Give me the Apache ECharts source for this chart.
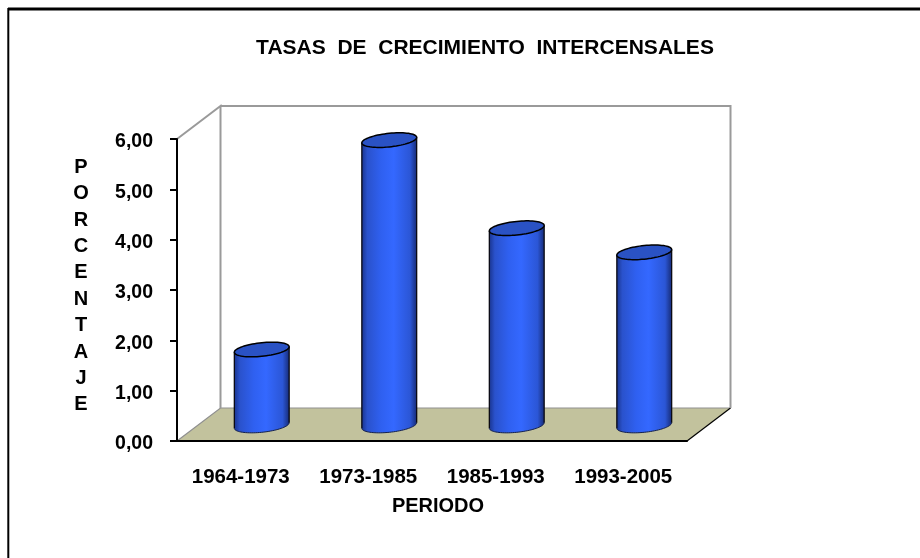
<!DOCTYPE html>
<html>
<head>
<meta charset="utf-8">
<script src="https://cdn.jsdelivr.net/npm/echarts@6/dist/echarts.min.js"></script>
<style>html,body{margin:0;padding:0;background:#fff}#c{width:920px;height:558px}</style>
</head>
<body>
<div id="c"></div>
<script>
var categories = ['1964-1973', '1973-1985', '1985-1993', '1993-2005'];
var tasas = [1.51, 5.67, 3.92, 3.44];
var yTicks = { min: 0, max: 6, interval: 1 };
var titulo = 'TASAS  DE  CRECIMIENTO  INTERCENSALES';
var ejeY = 'PORCENTAJE';
var ejeX = 'PERIODO';

var FONT = '"Liberation Sans", Arial, sans-serif';
var chart = echarts.init(document.getElementById('c'), null, { renderer: 'canvas' });

function ellipsePts(cx, cy, a, shear, b, from, to, n) {
  var pts = [];
  for (var i = 0; i <= n; i++) {
    var t = from + (to - from) * i / n;
    pts.push([cx + a * Math.cos(t), cy - shear * a * Math.cos(t) + b * Math.sin(t)]);
  }
  return pts;
}

function renderRoom(params, api) {
  var cs = params.coordSys;
  var dx = 43.5, dy = 33;
  var L = cs.x, R = cs.x + cs.width, T = cs.y, B = cs.y + cs.height;
  var wall = { stroke: '#9a9a9a', lineWidth: 2, fill: null };
  return {
    type: 'group',
    silent: true,
    children: [
      { type: 'polygon', shape: { points: [[L, B], [L + dx, B - dy], [R + dx, B - dy], [R, B]] },
        style: { fill: '#C2C29D', stroke: null } },
      { type: 'polyline', shape: { points: [[L, B], [L + dx, B - dy], [R + dx, B - dy]] },
        style: { stroke: '#8f8f8f', lineWidth: 1.2, fill: null } },
      { type: 'polyline', shape: { points: [[R, B], [R + dx, B - dy]] },
        style: { stroke: '#000', lineWidth: 1.2, fill: null } },
      { type: 'polyline', shape: { points: [[L, T], [L + dx, T - dy], [L + dx, B - dy]] }, style: wall },
      { type: 'polyline', shape: { points: [[L + dx, T - dy], [R + dx, T - dy], [R + dx, B - dy]] }, style: wall }
    ]
  };
}

function renderCyl(params, api) {
  var base = api.coord([api.value(0), 0]);
  var top = api.coord([api.value(0), api.value(1)]);
  var band = api.size([1, 0])[0];
  var a = band * 0.215, shear = 0.1, b = 6.8, ox = 21, oy = 15.5;
  var cx = base[0] + ox, by = base[1] - oy, ty = top[1] - oy;
  var lower = ellipsePts(cx, by, a, shear, b, 0, Math.PI, 40);
  var upper = [[cx - a, ty + shear * a], [cx + a, ty - shear * a]];
  var body = lower.concat(upper);
  var grad = new echarts.graphic.LinearGradient(0, 0, 1, 0, [
    { offset: 0, color: '#1a3590' },
    { offset: 0.1, color: '#2a52cc' },
    { offset: 0.35, color: '#2f60f0' },
    { offset: 0.58, color: '#3468ff' },
    { offset: 0.88, color: '#2b56d6' },
    { offset: 1, color: '#172c78' }
  ]);
  return {
    type: 'group',
    children: [
      { type: 'polygon', shape: { points: body }, style: { fill: grad, stroke: null } },
      { type: 'polyline', shape: { points: [[cx + a, by - shear * a], [cx + a, ty - shear * a]] },
        style: { stroke: '#0a0a14', lineWidth: 1.3, fill: null } },
      { type: 'polyline', shape: { points: [[cx - a, by + shear * a], [cx - a, ty + shear * a]] },
        style: { stroke: '#0a0a14', lineWidth: 1.3, fill: null } },
      { type: 'polyline', shape: { points: lower },
        style: { stroke: '#14204c', lineWidth: 1, fill: null } },
      { type: 'polygon', shape: { points: ellipsePts(cx, ty, a, shear, b, 0, Math.PI * 2, 72) },
        style: { fill: '#2A52C4', stroke: '#000', lineWidth: 1.5 } }
    ]
  };
}

chart.setOption({
  animation: false,
  backgroundColor: '#fff',
  title: [
    { text: titulo, left: 480, top: 32, textAlign: 'center',
      textStyle: { fontFamily: FONT, fontSize: 21, fontWeight: 'bold', color: '#000', lineHeight: 22 } },
    { text: ejeY.split('').join('\n'), left: 76, top: 149, textAlign: 'center',
      textStyle: { fontFamily: FONT, fontSize: 20, fontWeight: 'bold', color: '#000', lineHeight: 26.4, align: 'center' } }
  ],
  grid: { left: 177, right: 233, top: 139, bottom: 117, containLabel: false },
  xAxis: {
    type: 'category', data: categories, z: 5,
    name: ejeX, nameLocation: 'middle', nameGap: 55,
    nameTextStyle: { fontFamily: FONT, fontSize: 20, fontWeight: 'bold', color: '#000', padding: [0, 0, 0, 12] },
    axisLine: { lineStyle: { color: '#000', width: 2 } },
    axisTick: { length: 7, lineStyle: { color: '#000', width: 2 } },
    axisLabel: { fontFamily: FONT, fontSize: 20.5, fontWeight: 'bold', color: '#000', margin: 26, interval: 0 }
  },
  yAxis: {
    type: 'value', min: yTicks.min, max: yTicks.max, interval: yTicks.interval, z: 5,
    axisLine: { show: true, lineStyle: { color: '#000', width: 2 } },
    axisTick: { show: true, length: 7, lineStyle: { color: '#000', width: 2 } },
    splitLine: { show: false },
    axisLabel: { fontFamily: FONT, fontSize: 19.5, fontWeight: 'bold', color: '#000', margin: 24,
      verticalAlign: 'top', lineHeight: 6,
      formatter: function (v) { return v.toFixed(2).replace('.', ','); } }
  },
  graphic: [
    { type: 'line', z: 10, silent: true, shape: { x1: 8, y1: 9, x2: 920, y2: 9 }, style: { stroke: '#000', lineWidth: 3 } },
    { type: 'line', z: 10, silent: true, shape: { x1: 8.3, y1: 8, x2: 8.3, y2: 558 }, style: { stroke: '#000', lineWidth: 2 } }
  ],
  series: [
    { type: 'custom', name: 'piso', z: 1, clip: false, silent: true, renderItem: renderRoom, data: [[0, 0]], encode: { x: 0, y: 1 } },
    { type: 'custom', name: 'Tasa', z: 2, clip: false, renderItem: renderCyl,
      data: tasas.map(function (v, i) { return [i, v]; }), encode: { x: 0, y: 1 } }
  ]
});
</script>
</body>
</html>
